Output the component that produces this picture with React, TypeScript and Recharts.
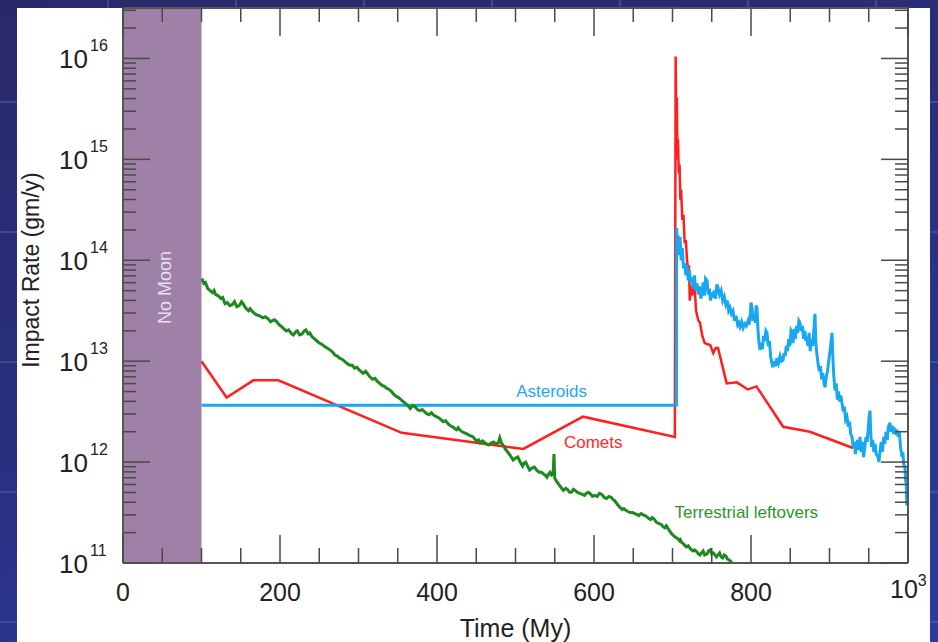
import { LineChart, Line, XAxis, YAxis, ReferenceArea, ReferenceDot } from "recharts"

const FONT = "'Liberation Sans', Arial, Helvetica, sans-serif"

// time in My, rate as log10(gm/y)
const cometPoints: [number, number][] = [
  [100, 13.0], [132, 12.64], [166, 12.81], [198, 12.81], [355, 12.29], [510, 12.13],
  [586, 12.45], [703, 12.25], [704, 16.02], [704.8, 15.4], [705.5, 15.61], [706.3, 15.0],
  [707, 15.2], [708, 14.86], [709, 14.95], [710, 14.6], [711, 14.7], [712.5, 14.4],
  [714, 14.45], [715.5, 14.17], [717, 14.2], [718.5, 14.0], [720, 13.9], [721, 13.95],
  [722, 13.6], [723.5, 13.75], [725, 13.65], [727, 13.75], [728.5, 13.7], [730, 13.5],
  [733, 13.4], [735, 13.38], [738, 13.25], [741, 13.18], [744, 13.17], [748, 13.16],
  [752, 13.08], [755, 13.13], [758, 13.13], [769, 12.78], [782, 12.79], [796, 12.72],
  [807, 12.75], [841, 12.35], [875, 12.3], [930, 12.14],
]

const asteroidPoints: [number, number][] = [
  [100, 12.564], [705, 12.564], [705.3, 14.32], [706, 14.1], [707, 14.25], [708, 14.05],
  [709.6, 14.23], [711, 14.0], [712.5, 14.12], [714, 13.92], [715.9, 13.97], [717, 13.85],
  [718.5, 13.95], [720, 13.8], [721.5, 13.9], [723, 13.78], [724.8, 13.83], [726.5, 13.72],
  [728, 13.85], [729.5, 13.7], [731.2, 13.77], [733, 13.66], [734.5, 13.74], [736, 13.62],
  [737.6, 13.67], [739, 13.78], [740.5, 13.65], [742, 13.82], [744, 13.8], [745.5, 13.66],
  [747, 13.72], [748.5, 13.6], [750, 13.68], [751.6, 13.63], [753, 13.7], [755, 13.62],
  [756.5, 13.76], [758, 13.73], [760, 13.66], [762, 13.7], [764, 13.6], [766, 13.64],
  [768, 13.56], [770, 13.6], [771.5, 13.5], [773.2, 13.53], [775, 13.47], [777, 13.5],
  [779, 13.4], [781, 13.45], [783, 13.36], [784.5, 13.38], [786, 13.34], [788, 13.39],
  [790, 13.33], [792, 13.37], [794, 13.35], [796.2, 13.4], [797.5, 13.36], [799, 13.45],
  [800, 13.58], [801.3, 13.53], [802.5, 13.4], [804, 13.47], [805.5, 13.38], [806.5, 13.55],
  [807.6, 13.53], [809, 13.3], [810, 13.2], [811.5, 13.11], [813, 13.18], [814.5, 13.12],
  [816, 13.25], [817.5, 13.2], [819, 13.3], [820.4, 13.28], [822, 13.15], [823.5, 13.2],
  [825, 13.05], [826.5, 12.98], [828, 12.94], [829.5, 13.0], [831, 12.95], [833, 13.03],
  [835, 12.98], [837, 13.05], [839, 13.0], [840.8, 13.01], [842, 13.08], [843.5, 13.05],
  [845, 13.15], [846.5, 13.1], [848, 13.22], [849.5, 13.15], [851, 13.3], [852.2, 13.28],
  [853.5, 13.18], [855, 13.32], [856.5, 13.22], [858, 13.35], [859.5, 13.28], [861, 13.4],
  [862.4, 13.38], [864, 13.3], [865.5, 13.35], [867, 13.22], [868.5, 13.3], [870, 13.2],
  [871.3, 13.24], [872.5, 13.15], [874, 13.28], [875.5, 13.1], [877, 13.22], [878.5, 13.15],
  [880, 13.3], [881.5, 13.47], [882.5, 13.2], [883.5, 13.1], [885.4, 12.98], [887, 12.9],
  [888.5, 12.95], [890, 12.82], [891.5, 12.88], [893, 12.78], [894.3, 12.74], [896, 12.85],
  [897.5, 12.9], [899, 13.0], [901, 13.12], [903.2, 13.28], [904.5, 13.0], [905.5, 12.85],
  [907, 12.71], [908.5, 12.78], [910, 12.62], [911.5, 12.7], [913, 12.6], [914.5, 12.66],
  [916, 12.58], [917.5, 12.5], [919, 12.55], [920.5, 12.42], [922.3, 12.45], [924, 12.35],
  [925.5, 12.4], [927, 12.28], [928.7, 12.25], [930, 12.15], [931.5, 12.2], [933, 12.08],
  [934.5, 12.18], [936, 12.22], [937.5, 12.12], [938.9, 12.25], [940.5, 12.1], [942, 12.2],
  [943.5, 12.05], [945, 12.15], [946.5, 12.25], [948, 12.2], [949.5, 12.35], [950.5, 12.45],
  [951.6, 12.51], [952.5, 12.3], [953.5, 12.15], [955, 12.22], [956.5, 12.1], [958, 12.18],
  [959.5, 12.08], [961.8, 12.05], [963, 12.0], [964.5, 12.12], [966, 12.2], [967.5, 12.1],
  [969, 12.25], [970.5, 12.18], [972, 12.3], [973.5, 12.22], [975, 12.35], [977, 12.39],
  [978.5, 12.3], [980, 12.36], [981.5, 12.28], [983, 12.34], [984.5, 12.27], [986, 12.32],
  [987.5, 12.25], [989, 12.3], [990.5, 12.15], [992.4, 12.05], [993.5, 12.1], [994.5, 11.98],
  [996.2, 11.95], [997, 11.8], [997.5, 11.9], [998, 11.7], [998.5, 11.57], [999, 11.75],
  [999.5, 11.6],
]

const leftoverPoints: [number, number][] = [
  [100.6, 13.82], [103, 13.77], [105, 13.78], [108, 13.72], [111, 13.7], [114, 13.68],
  [116, 13.7], [118, 13.66], [121, 13.65], [125, 13.62], [127, 13.63], [130, 13.57],
  [133, 13.58], [136, 13.55], [139, 13.56], [142, 13.59], [145, 13.54], [148, 13.55],
  [151, 13.59], [153, 13.57], [156, 13.53], [160, 13.5], [162, 13.52], [165, 13.49],
  [168, 13.47], [170, 13.46], [174, 13.45], [178, 13.43], [181, 13.44], [185, 13.42],
  [188, 13.39], [190, 13.4], [193, 13.41], [196, 13.39], [199, 13.36], [201, 13.35],
  [205, 13.32], [208, 13.3], [211, 13.31], [213, 13.29], [215, 13.27], [217, 13.26],
  [220, 13.29], [222, 13.3], [225, 13.26], [228, 13.27], [231, 13.3], [233, 13.31],
  [236, 13.27], [238, 13.28], [241, 13.24], [244, 13.22], [247, 13.2], [250, 13.18],
  [253, 13.17], [256, 13.15], [260, 13.13], [264, 13.11], [267, 13.09], [270, 13.06],
  [273, 13.05], [276, 13.03], [279, 13.02], [282, 13.0], [285, 12.98], [289, 12.96],
  [292, 12.96], [295, 12.93], [298, 12.94], [300, 12.92], [303, 12.9], [306, 12.88],
  [309, 12.9], [311, 12.88], [315, 12.84], [318, 12.82], [321, 12.83], [324, 12.8],
  [327, 12.78], [330, 12.76], [333, 12.75], [336, 12.73], [339, 12.72], [342, 12.7],
  [345, 12.67], [348, 12.65], [351, 12.64], [354, 12.62], [357, 12.6], [360, 12.58],
  [363, 12.56], [366, 12.53], [369, 12.56], [372, 12.55], [375, 12.52], [378, 12.51],
  [381, 12.52], [384, 12.5], [387, 12.48], [390, 12.47], [393, 12.49], [395, 12.47],
  [399, 12.45], [402, 12.44], [405, 12.42], [408, 12.4], [411, 12.41], [414, 12.38],
  [417, 12.36], [420, 12.35], [423, 12.33], [425, 12.32], [427, 12.34], [429, 12.32],
  [432, 12.3], [435, 12.29], [438, 12.28], [440, 12.27], [443, 12.26], [446, 12.25],
  [448, 12.23], [450, 12.21], [453, 12.22], [455, 12.19], [458, 12.21], [460, 12.2],
  [463, 12.18], [466, 12.17], [469, 12.19], [472, 12.2], [475, 12.18], [478, 12.19],
  [480, 12.24], [482, 12.19], [484, 12.17], [487, 12.13], [490, 12.1], [493, 12.07],
  [497, 12.02], [500, 12.04], [503, 12.05], [506, 12.0], [509, 11.96], [511, 11.99],
  [513, 12.0], [516, 11.95], [518, 11.92], [521, 11.94], [524, 11.95], [527, 11.92],
  [530, 11.9], [533, 11.9], [536, 11.88], [538, 11.87], [540, 11.85], [542, 11.88],
  [544, 11.9], [546, 11.87], [548, 11.88], [549, 12.08], [550, 11.84], [553, 11.8],
  [555, 11.78], [557, 11.76], [559, 11.74], [561, 11.72], [564, 11.74], [566, 11.73],
  [569, 11.7], [571, 11.7], [574, 11.73], [576, 11.72], [579, 11.7], [582, 11.69],
  [585, 11.68], [588, 11.67], [590, 11.69], [593, 11.7], [596, 11.68], [598, 11.66],
  [601, 11.67], [604, 11.66], [607, 11.69], [610, 11.68], [613, 11.65], [616, 11.64],
  [619, 11.66], [622, 11.65], [624, 11.63], [626, 11.62], [628, 11.6], [630, 11.58],
  [633, 11.55], [636, 11.53], [638, 11.54], [641, 11.52], [643, 11.51], [646, 11.5],
  [649, 11.5], [652, 11.49], [655, 11.48], [657, 11.47], [660, 11.49], [662, 11.48],
  [665, 11.47], [667, 11.46], [670, 11.44], [672, 11.43], [674, 11.45], [676, 11.44],
  [678, 11.42], [680, 11.4], [683, 11.39], [686, 11.38], [688, 11.36], [690, 11.35],
  [692, 11.37], [693, 11.36], [696, 11.32], [698, 11.3], [700, 11.28], [703, 11.26],
  [705, 11.25], [707, 11.24], [709, 11.22], [710, 11.23], [712, 11.2], [714, 11.19],
  [716, 11.17], [718, 11.16], [720, 11.17], [722, 11.15], [724, 11.13], [726, 11.12],
  [728, 11.13], [731, 11.11], [733, 11.09], [735, 11.08], [737, 11.1], [739, 11.12],
  [741, 11.08], [744, 11.09], [746, 11.12], [748, 11.13], [750, 11.09], [752, 11.1],
  [754, 11.08], [756, 11.06], [758, 11.08], [760, 11.1], [762, 11.06], [764, 11.05],
  [766, 11.08], [768, 11.07], [770, 11.04], [772, 11.03], [774, 11.02], [775, 11.0],
]

const xTicks = [0, 50, 100, 150, 200, 250, 300, 350, 400, 450, 500, 550, 600, 650, 700, 750, 800, 850, 900, 950, 1000]
const yDecades = [11, 12, 13, 14, 15, 16]
const yTicks: number[] = []
yDecades.forEach(d => {
  yTicks.push(d)
  for (let k = 2; k <= 9; k++) {
    const v = d + Math.log10(k)
    if (v <= 16.5) yTicks.push(v)
  }
})

const rows = (pts: [number, number][]) => pts.map(([t, rate]) => ({ t, rate }))

const TICK = "#4a4a4a"

function BottomTick({ x, y, payload }: any) {
  const v = payload.value
  const major = v % 200 === 0
  return (
    <g>
      <line x1={x} x2={x} y1={y} y2={y - (major ? 28 : 15)} stroke={TICK} strokeWidth={1.5} />
      {major && v !== 1000 && (
        <text x={x} y={y + 38} textAnchor="middle" fontSize={25} fill="#222" fontFamily={FONT}>{v}</text>
      )}
      {v === 1000 && (
        <text x={x - 18} y={y + 35} fontSize={25} fill="#222" fontFamily={FONT}>
          10<tspan dy={-12} fontSize={16}>3</tspan>
        </text>
      )}
    </g>
  )
}

function TopTick({ x, y, payload }: any) {
  const major = payload.value % 200 === 0
  return <line x1={x} x2={x} y1={y} y2={y + (major ? 28 : 14)} stroke={TICK} strokeWidth={1.5} />
}

function LeftTick({ x, y, payload }: any) {
  const v = payload.value
  const major = Number.isInteger(v)
  return (
    <g>
      <line x1={x} x2={x + (major ? 27 : 13)} y1={y} y2={y} stroke={TICK} strokeWidth={1.5} />
      {major && (
        <>
          <text x={x - 35} y={y + 10} textAnchor="end" fontSize={26} fill="#222" fontFamily={FONT}>10</text>
          <text x={x - 33} y={y - 7} fontSize={16} fill="#222" fontFamily={FONT}>{v}</text>
        </>
      )}
    </g>
  )
}

function RightTick({ x, y, payload }: any) {
  const major = Number.isInteger(payload.value)
  return <line x1={x} x2={x - (major ? 27 : 13)} y1={y} y2={y} stroke={TICK} strokeWidth={1.5} />
}

function TextMark({ cx, cy, text, color, size, rotate }: any) {
  return (
    <text
      x={cx}
      y={cy}
      textAnchor="middle"
      dominantBaseline="central"
      fontSize={size}
      fill={color}
      fontFamily={FONT}
      transform={rotate ? `rotate(-90 ${cx} ${cy})` : undefined}
    >
      {text}
    </text>
  )
}

export default function App() {
  const axisLine = { stroke: "#555", strokeWidth: 2 }
  return (
    <div
      style={{
        position: "absolute",
        left: 0,
        top: 0,
        width: 938,
        height: 642,
        overflow: "hidden",
        background:
          "repeating-linear-gradient(90deg, transparent 0 107px, rgba(90,110,200,0.4) 107px 109px, transparent 109px 128px)," +
          "repeating-linear-gradient(180deg, transparent 0 101px, rgba(90,110,200,0.4) 101px 103px, transparent 103px 130px)," +
          "linear-gradient(165deg, #29296a 0%, #2a3080 50%, #2b3c9e 100%)",
      }}
    >
      <div style={{ position: "absolute", left: 17, top: 8, width: 913, height: 640, background: "#fff" }} />
      <div style={{ position: "absolute", left: 0, top: 0 }}>
        <LineChart width={938} height={642} margin={{ top: 3, right: 25, bottom: 39, left: 63 }}>
          <XAxis
            xAxisId="b"
            type="number"
            dataKey="t"
            domain={[0, 1000]}
            ticks={xTicks}
            interval={0}
            allowDataOverflow
            height={40}
            tickSize={0}
            tickMargin={0}
            tickLine={false}
            axisLine={axisLine}
            tick={<BottomTick />}
            label={{
              content: ({ viewBox }: any) => (
                <text x={viewBox.x + viewBox.width / 2} y={637} textAnchor="middle" fontSize={25} fill="#222" fontFamily={FONT}>
                  Time (My)
                </text>
              ),
            }}
          />
          <XAxis
            xAxisId="top"
            orientation="top"
            type="number"
            dataKey="t"
            domain={[0, 1000]}
            ticks={xTicks}
            interval={0}
            allowDataOverflow
            height={5}
            tickSize={0}
            tickMargin={0}
            tickLine={false}
            axisLine={axisLine}
            tick={<TopTick />}
          />
          <YAxis
            yAxisId="l"
            type="number"
            domain={[11, 16.5]}
            ticks={yTicks}
            interval={0}
            allowDataOverflow
            width={60}
            tickSize={0}
            tickMargin={0}
            tickLine={false}
            axisLine={axisLine}
            tick={<LeftTick />}
            label={{
              content: () => (
                <text x={31} y={270} textAnchor="middle" dominantBaseline="central" fontSize={23} fill="#222" fontFamily={FONT} transform="rotate(-90 31 270)">
                  Impact Rate (gm/y)
                </text>
              ),
            }}
          />
          <YAxis
            yAxisId="r"
            orientation="right"
            type="number"
            domain={[11, 16.5]}
            ticks={yTicks}
            interval={0}
            allowDataOverflow
            width={5}
            tickSize={0}
            tickMargin={0}
            tickLine={false}
            axisLine={axisLine}
            tick={<RightTick />}
          />
          <ReferenceArea xAxisId="b" yAxisId="l" x1={0} x2={100} y1={11} y2={16.5} fill="#9f80a7" fillOpacity={1} stroke="none" />
          <Line xAxisId="b" yAxisId="l" data={rows(cometPoints)} dataKey="rate" type="linear" stroke="#ff1f1f" strokeWidth={2.5} dot={false} isAnimationActive={false} />
          <Line xAxisId="b" yAxisId="l" data={rows(asteroidPoints)} dataKey="rate" type="linear" stroke="#18a8f0" strokeWidth={3} dot={false} isAnimationActive={false} />
          <Line xAxisId="b" yAxisId="l" data={rows(leftoverPoints)} dataKey="rate" type="linear" stroke="#1e8a1e" strokeWidth={3} dot={false} isAnimationActive={false} />
          <ReferenceDot xAxisId="b" yAxisId="l" x={546} y={12.7} r={0} shape={(p: any) => <TextMark {...p} text="Asteroids" color="#22a8f0" size={17} />} />
          <ReferenceDot xAxisId="b" yAxisId="l" x={599} y={12.19} r={0} shape={(p: any) => <TextMark {...p} text="Comets" color="#ff2a2a" size={17} />} />
          <ReferenceDot xAxisId="b" yAxisId="l" x={794} y={11.5} r={0} shape={(p: any) => <TextMark {...p} text="Terrestrial leftovers" color="#2a962a" size={17} />} />
          <ReferenceDot xAxisId="b" yAxisId="l" x={53.5} y={13.73} r={0} shape={(p: any) => <TextMark {...p} text="No Moon" color="#e8dff0" size={18} rotate />} />
        </LineChart>
      </div>
    </div>
  )
}
